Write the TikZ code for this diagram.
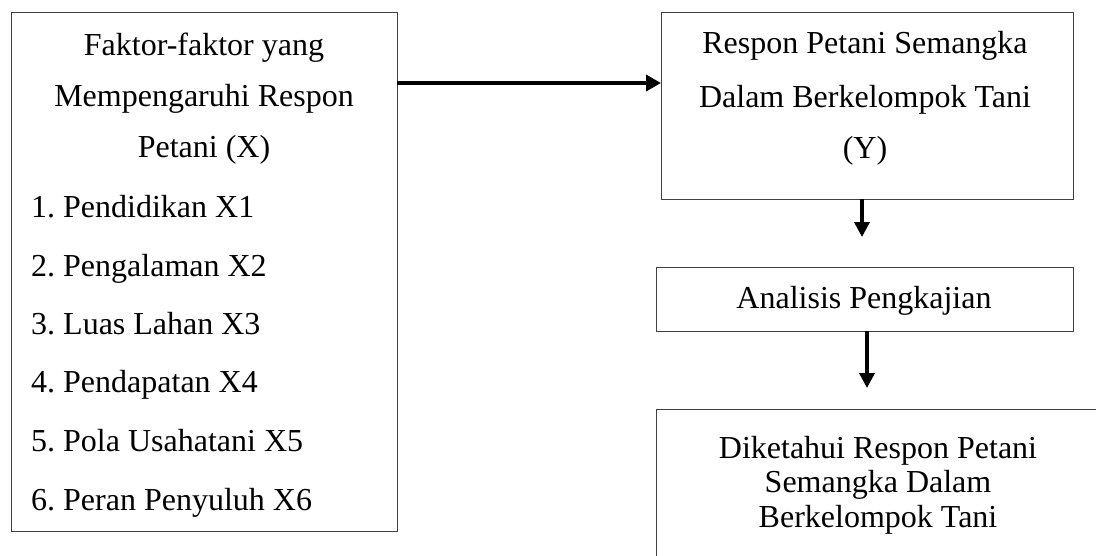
\documentclass[tikz,border=0pt]{standalone}
\usepackage{fontspec}
\setmainfont{Liberation Serif}
\usetikzlibrary{arrows.meta}
\frenchspacing
\begin{document}
\begin{tikzpicture}[x=1pt,y=-1pt,
  box/.style={draw=black!75, line width=1pt, rectangle, inner sep=0pt, outer sep=0pt},
  txt/.style={font=\fontsize{32}{38}\selectfont\frenchspacing, inner sep=0pt, anchor=base},
  ltxt/.style={txt, anchor=base west},
  arr/.style={line width=3.6pt, -{Triangle[length=15pt,width=16pt]}}]
\clip (0,0) rectangle (1096,555);
\fill[white] (0,0) rectangle (1096,555);
% boxes
\node[box, minimum width=386pt, minimum height=519pt] (left) at (204,271.5) {};
\node[box, minimum width=412pt, minimum height=187pt] (resp) at (867,105.5) {};
\node[box, minimum width=417pt, minimum height=64pt] (anal) at (864.5,299) {};
\node[box, minimum width=444pt, minimum height=170pt] (hasil) at (878,494) {};
% left texts
\node[txt] (l1) at (204,55) {Faktor-faktor yang};
\node[txt] (l2) at (204,106) {Mempengaruhi Respon};
\node[txt] (l3) at (204,157) {Petani (X)};
\node[ltxt] (i1) at (31,217) {1. Pendidikan X1};
\node[ltxt] (i2) at (31,276) {2. Pengalaman X2};
\node[ltxt] (i3) at (31,334) {3. Luas Lahan X3};
\node[ltxt] (i4) at (31,392) {4. Pendapatan X4};
\node[ltxt] (i5) at (31,451) {5. Pola Usahatani X5};
\node[ltxt] (i6) at (31,510) {6. Peran Penyuluh X6};
% right texts
\node[txt] (r1) at (865,53) {Respon Petani Semangka};
\node[txt] (r2) at (865,107) {Dalam Berkelompok Tani};
\node[txt] (r3) at (865,158) {(Y)};
\node[txt] (a1) at (864,308) {Analisis Pengkajian};
\node[txt] (h1) at (878,458) {Diketahui Respon Petani};
\node[txt] (h2) at (878,492) {Semangka Dalam};
\node[txt] (h3) at (878,527) {Berkelompok Tani};
% connectors
\coordinate (ay) at (0,83);
\coordinate (t2) at (862,237);
\coordinate (t3) at (867,388);
\draw[arr] (left.east |- ay) -- (resp.west |- ay);
\draw[arr, -{Triangle[length=15pt,width=15pt]}] (resp.south -| t2) -- (t2);
\draw[arr, -{Triangle[length=15pt,width=15pt]}] (anal.south -| t3) -- (t3);
\end{tikzpicture}
\end{document}
